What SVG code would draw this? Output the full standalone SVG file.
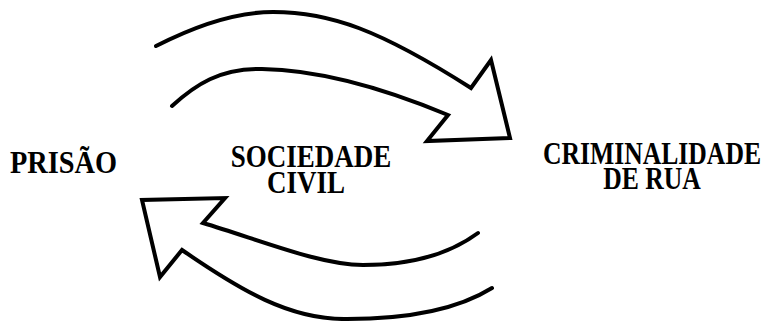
<svg xmlns="http://www.w3.org/2000/svg" width="766" height="321" viewBox="0 0 766 321">
<style>
.lbl{font-family:'Liberation Serif',serif;font-weight:700;font-size:27px;fill:#000}
.arr{fill:#fff;stroke:#000;stroke-width:4;stroke-linejoin:miter;stroke-linecap:round}
</style>
<rect width="766" height="321" fill="#fff"/>
<g id="connectors">
<path class="arr" d="M156,46 C195,26 235,12 273,12 C330,12 380,30 471,88 L491,60 L510,138 L427,141 L448,115 C400,95 330,70 262,69 C220,68 195,85 172,106"/>
<path class="arr" d="M478,233 C455,250 420,265 363,265 C320,265 260,240 203,223 L225,198 L142,200 L160,277 L182,250 C240,290 290,320 347,319 C410,319 460,308 492,288"/>
</g>
<g id="prisao"><text class="lbl" transform="translate(10,173) scale(1.05,1.15)">PRISÃO</text></g>
<g id="sociedade">
<text class="lbl" text-anchor="middle" transform="translate(311,166.5) scale(1,1.2)">SOCIEDADE</text>
<text class="lbl" text-anchor="middle" transform="translate(306,193) scale(1,1.2)">CIVIL</text>
</g>
<g id="criminalidade">
<text class="lbl" text-anchor="middle" transform="translate(652,164) scale(0.95,1.2)">CRIMINALIDADE</text>
<text class="lbl" text-anchor="middle" transform="translate(652,189) scale(0.95,1.2)">DE RUA</text>
</g>
</svg>
